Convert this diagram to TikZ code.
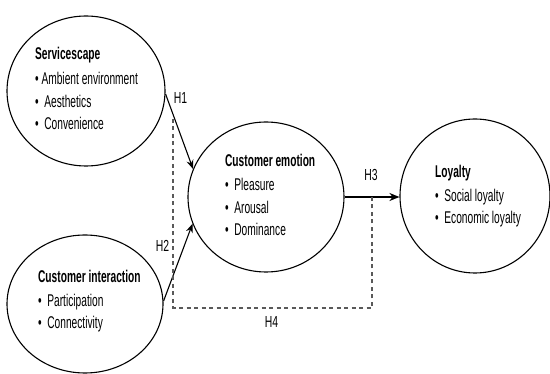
\documentclass[tikz,border=0pt]{standalone}
\usepackage{fontspec}
\setmainfont{Liberation Sans}
\usetikzlibrary{shapes.geometric,arrows.meta}
\begin{document}
\begin{tikzpicture}[x=1pt,y=-1pt,
  construct/.style={ellipse,draw,line width=1.1pt,inner sep=0pt},
  txt/.style={align=left,inner sep=0pt,xscale=0.6,transform shape,anchor=north west,
    font=\fontsize{17}{22.5}\selectfont},
  hyp/.style={line width=1.1pt,-{Stealth[length=9pt,width=7pt]}},
  hypthick/.style={line width=2pt,-{Stealth[length=10pt,width=8pt]}},
  indirect/.style={dashed,dash pattern=on 4pt off 3.5pt,line width=1.1pt,black!65},
  lab/.style={font=\fontsize{16}{18}\selectfont,inner sep=0pt,xscale=0.65,transform shape}]
\useasboundingbox (0,0) rectangle (550,374);
\node[construct,minimum width=158pt,minimum height=150pt] (ss) at (86,91) {};
\node[construct,minimum width=156pt,minimum height=138pt] (ci) at (85,304) {};
\node[construct,minimum width=156pt,minimum height=150pt] (em) at (266,197) {};
\node[construct,minimum width=150pt,minimum height=154pt] (loy) at (475,196) {};
\node[txt] (sst) at (35,46.5)
  {\textbf{Servicescape}\\[3pt]• Ambient environment\\•\ \ Aesthetics\\•\ \ Convenience};
\node[txt] (cit) at (38,270)
  {\textbf{Customer interaction}\\[1pt]•\ \ Participation\\•\ \ Connectivity};
\node[txt] (emt) at (225,153.5)
  {\textbf{Customer emotion}\\[2pt]•\ \ Pleasure\\•\ \ Arousal\\•\ \ Dominance};
\node[txt] (loyt) at (435,165)
  {\textbf{Loyalty}\\[1.5pt]•\ \ Social loyalty\\[-1pt]•\ \ Economic loyalty};
\draw[hyp] (ss.-2) -- (em.159);
\draw[hyp] (ci.2) -- (em.200);
\draw[hypthick] (em.east) -- (em.east -| loy.west);
\coordinate (d1) at (173,119);
\coordinate (dc) at (173,308);
\coordinate (d3) at (372,197);
\draw[indirect] (d1) -- (dc) -| (d3);
\node[lab] (h1) at (180.5,97.5) {H1};
\node[lab] (h2) at (162.5,246) {H2};
\node[lab] (h3) at (371,175) {H3};
\node[lab] (h4) at (271.5,322) {H4};
\end{tikzpicture}
\end{document}
